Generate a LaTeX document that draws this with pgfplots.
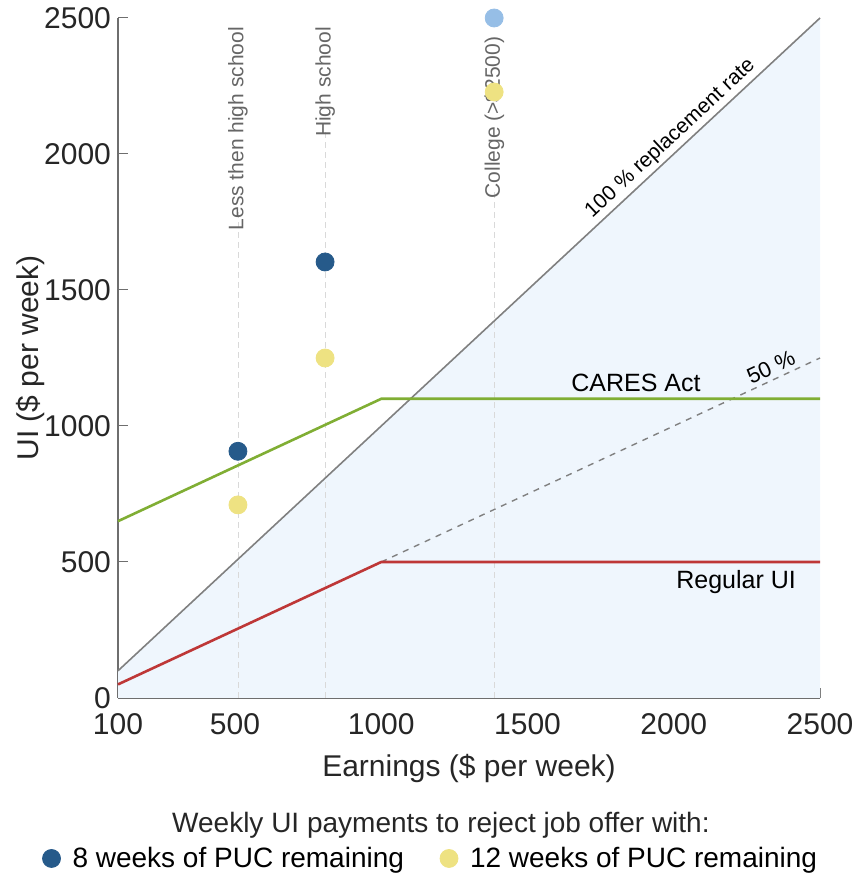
\documentclass[border=0pt]{standalone}
\usepackage{pgfplots}
\pgfplotsset{compat=1.18}
\usepackage{fontspec}
\setmainfont{Liberation Sans}

\definecolor{caresgreen}{RGB}{128,174,52}
\definecolor{uired}{RGB}{190,55,55}
\definecolor{dotblue}{RGB}{38,90,138}
\definecolor{dotyellow}{RGB}{238,226,130}
\definecolor{dotlight}{RGB}{150,190,230}
\definecolor{fillblue}{RGB}{239,246,253}
\definecolor{axgray}{RGB}{110,110,110}

\begin{document}
\begin{tikzpicture}
\begin{axis}[
  name=ax,
  width=351pt, height=340pt,
  scale only axis,
  xmin=100, xmax=2500,
  ymin=0, ymax=2500,
  axis lines*=left,
  axis line style={axgray, line width=0.6pt},
  tick align=inside,
  tick style={axgray, line width=0.5pt},
  major tick length=5pt,
  xtick={100,500,1000,1500,2000,2500},
  ytick={0,500,1000,1500,2000,2500},
  /pgf/number format/assume math mode=true,
  /pgf/number format/1000 sep={},
  tick label style={font=\fontsize{15}{15}\selectfont, text=black!85},
  xticklabel style={yshift=-4pt},
  xlabel={Earnings (\$ per week)},
  ylabel={UI (\$ per week)},
  label style={font=\fontsize{15}{15}\selectfont, text=black!85},
  xlabel style={yshift=-3pt},
  ylabel style={yshift=-7pt},
  clip=false,
  legend columns=2,
  legend style={draw=none, fill=none, font=\fontsize{14}{14}\selectfont,
    at={(0.447,-0.236)}, anchor=center,
    /tikz/every odd column/.append style={column sep=4pt},
    /tikz/every even column/.append style={column sep=16pt}},
  legend cell align=left,
]
% shaded region below 100% line
\addplot[fill=fillblue, draw=none, forget plot] coordinates {(100,0) (100,100) (2500,2500) (2500,0)} -- cycle;

% education reference lines
\addplot[gray!30, dash pattern=on 3pt off 2pt, line width=0.4pt, forget plot] coordinates {(510,0) (510,1790)};
\addplot[gray!30, dash pattern=on 3pt off 2pt, line width=0.4pt, forget plot] coordinates {(808,0) (808,2085)};
\addplot[gray!30, dash pattern=on 3pt off 2pt, line width=0.4pt, forget plot] coordinates {(1386,0) (1386,1865)};
\node[rotate=90, anchor=east, text=black!60, font=\fontsize{10.5}{10.5}\selectfont, inner sep=1pt] at (axis cs:510,2475) {Less then high school};
\node[rotate=90, anchor=east, text=black!60, font=\fontsize{10.5}{10.5}\selectfont, inner sep=1pt] at (axis cs:808,2475) {High school};

% 100% replacement rate
\addplot[gray, line width=0.8pt, forget plot] coordinates {(100,100) (2500,2500)}
  node[pos=0.8, sloped, above, inner sep=1.5pt, font=\fontsize{10.5}{10.5}\selectfont, text=black] {100 \% replacement rate};
% 50% dashed
\addplot[gray, dashed, line width=0.7pt, forget plot] coordinates {(1000,500) (2500,1250)}
  node[pos=0.9, sloped, above, inner sep=2pt, font=\fontsize{11}{11}\selectfont, text=black] {50 \%};
% CARES Act
\addplot[caresgreen, line width=1.3pt, forget plot] coordinates {(100,650) (1000,1100) (2500,1100)};
\node[font=\fontsize{12.5}{12.5}\selectfont] at (axis cs:1871,1160) {CARES Act};
% Regular UI
\addplot[uired, line width=1.3pt, forget plot] coordinates {(100,50) (1000,500) (2500,500)};
\node[font=\fontsize{12.5}{12.5}\selectfont] at (axis cs:2213,425) {Regular UI};

% points
\addplot[only marks, mark=*, mark size=4.5pt, mark options={draw=dotblue, fill=dotblue}] coordinates {(510,907) (808,1603)};
\addlegendentry{8 weeks of PUC remaining}
\addplot[only marks, mark=*, mark size=4.5pt, mark options={draw=dotyellow, fill=dotyellow}] coordinates {(510,710) (808,1250) (1386,2228)};
\addlegendentry{12 weeks of PUC remaining}
\addplot[only marks, mark=*, mark size=4.5pt, mark options={draw=dotlight, fill=dotlight}, forget plot] coordinates {(1386,2500)};
\node[rotate=90, anchor=east, text=black!60, font=\fontsize{10.5}{10.5}\selectfont, inner sep=1pt] at (axis cs:1386,2440) {College (>\$2500)};

\node[font=\fontsize{14}{14}\selectfont, text=black!85] at (rel axis cs:0.46,-0.187) {Weekly UI payments to reject job offer with:};
\end{axis}
\pgfresetboundingbox
\path ([shift={(-59pt,-88pt)}]ax.south west) rectangle ([shift={(17pt,9pt)}]ax.north east);
\end{tikzpicture}
\end{document}
